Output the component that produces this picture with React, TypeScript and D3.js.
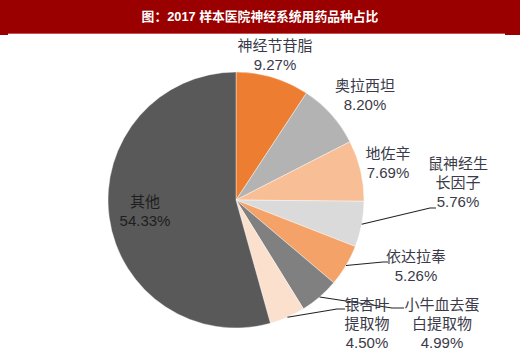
import React from "react";
import * as d3 from "d3";

const categories = ["神经节苷脂", "奥拉西坦", "地佐辛", "鼠神经生长因子", "依达拉奉", "小牛血去蛋白提取物", "银杏叶提取物", "其他"];
const values = [9.27, 8.2, 7.69, 5.76, 5.26, 4.99, 4.5, 54.33];
const labelLines = [["神经节苷脂"], ["奥拉西坦"], ["地佐辛"], ["鼠神经生", "长因子"], ["依达拉奉"], ["小牛血去蛋", "白提取物"], ["银杏叶", "提取物"], ["其他"]];
const colors = ["#ED7D31", "#B3B3B3", "#F8BF96", "#DADADA", "#F4A267", "#808080", "#FCE0CE", "#595959"];
const title = "图：2017 样本医院神经系统用药品种占比";

// label anchor positions (center x, first line baseline) and leader line elbow points
const labelPos: [number, number][] = [
  [275, 50.5], [365, 90.5], [388, 158.5], [458, 168.5], [416, 261.5], [442, 309.5], [367, 309.5], [145, 206.5],
];
const elbows: ([number, number][] | null)[] = [
  null, null, null,
  [[430, 208], [436, 208]],
  [[383, 262], [388, 262]],
  [[392, 308], [404, 308]],
  [[337, 309], [345, 309]],
  null,
];

export default function App() {
  const W = 520, H = 358;
  const cx = 236, cy = 200, r = 128;
  const pie = d3.pie<number>().sort(null).value((d) => d);
  const arcs = pie(values);
  const arc = d3.arc<d3.PieArcDatum<number>>().innerRadius(0).outerRadius(r);
  const font = "'Liberation Sans', 'Noto Sans CJK SC', sans-serif";
  return (
    <svg width={W} height={H} style={{ position: "absolute", left: 0, top: 0, background: "#fff" }}>
      <rect x={0} y={0} width={W} height={33} fill="#9A0000" />
      <rect x={0} y={33} width={8} height={2} fill="#9A0000" />
      <rect x={505} y={33} width={15} height={2} fill="#9A0000" />
      <line x1={8} x2={505} y1={33.5} y2={33.5} stroke="#C85050" strokeWidth={1} />
      <text x={260} y={21} textAnchor="middle" fill="#fff" fontSize={12.8} fontWeight="bold" fontFamily={font}>
        {title}
      </text>
      <g transform={`translate(${cx},${cy})`}>
        {arcs.map((a, i) => (
          <path key={categories[i]} d={arc(a) || ""} fill={colors[i]} stroke="#fff" strokeWidth={0.4} />
        ))}
      </g>
      {arcs.map((a, i) => {
        const el = elbows[i];
        if (!el) return null;
        const mid = (a.startAngle + a.endAngle) / 2;
        const x0 = cx + r * Math.sin(mid);
        const y0 = cy - r * Math.cos(mid);
        const pts: [number, number][] = [[x0, y0], ...el];
        return <path key={"l" + i} d={d3.line()(pts) || ""} fill="none" stroke="#222" strokeWidth={1.1} />;
      })}
      {labelLines.map((lines, i) => {
        const [x, y] = labelPos[i];
        const all = [...lines, values[i].toFixed(2) + "%"];
        return (
          <text key={"t" + i} x={x} y={y} textAnchor="middle" fontSize={15} fill={i === 7 ? "#1E1E1E" : "#3A3A48"} fontFamily={font}>
            {all.map((s, j) => (
              <tspan key={j} x={x} dy={j === 0 ? 0 : 19}>{s}</tspan>
            ))}
          </text>
        );
      })}
    </svg>
  );
}
